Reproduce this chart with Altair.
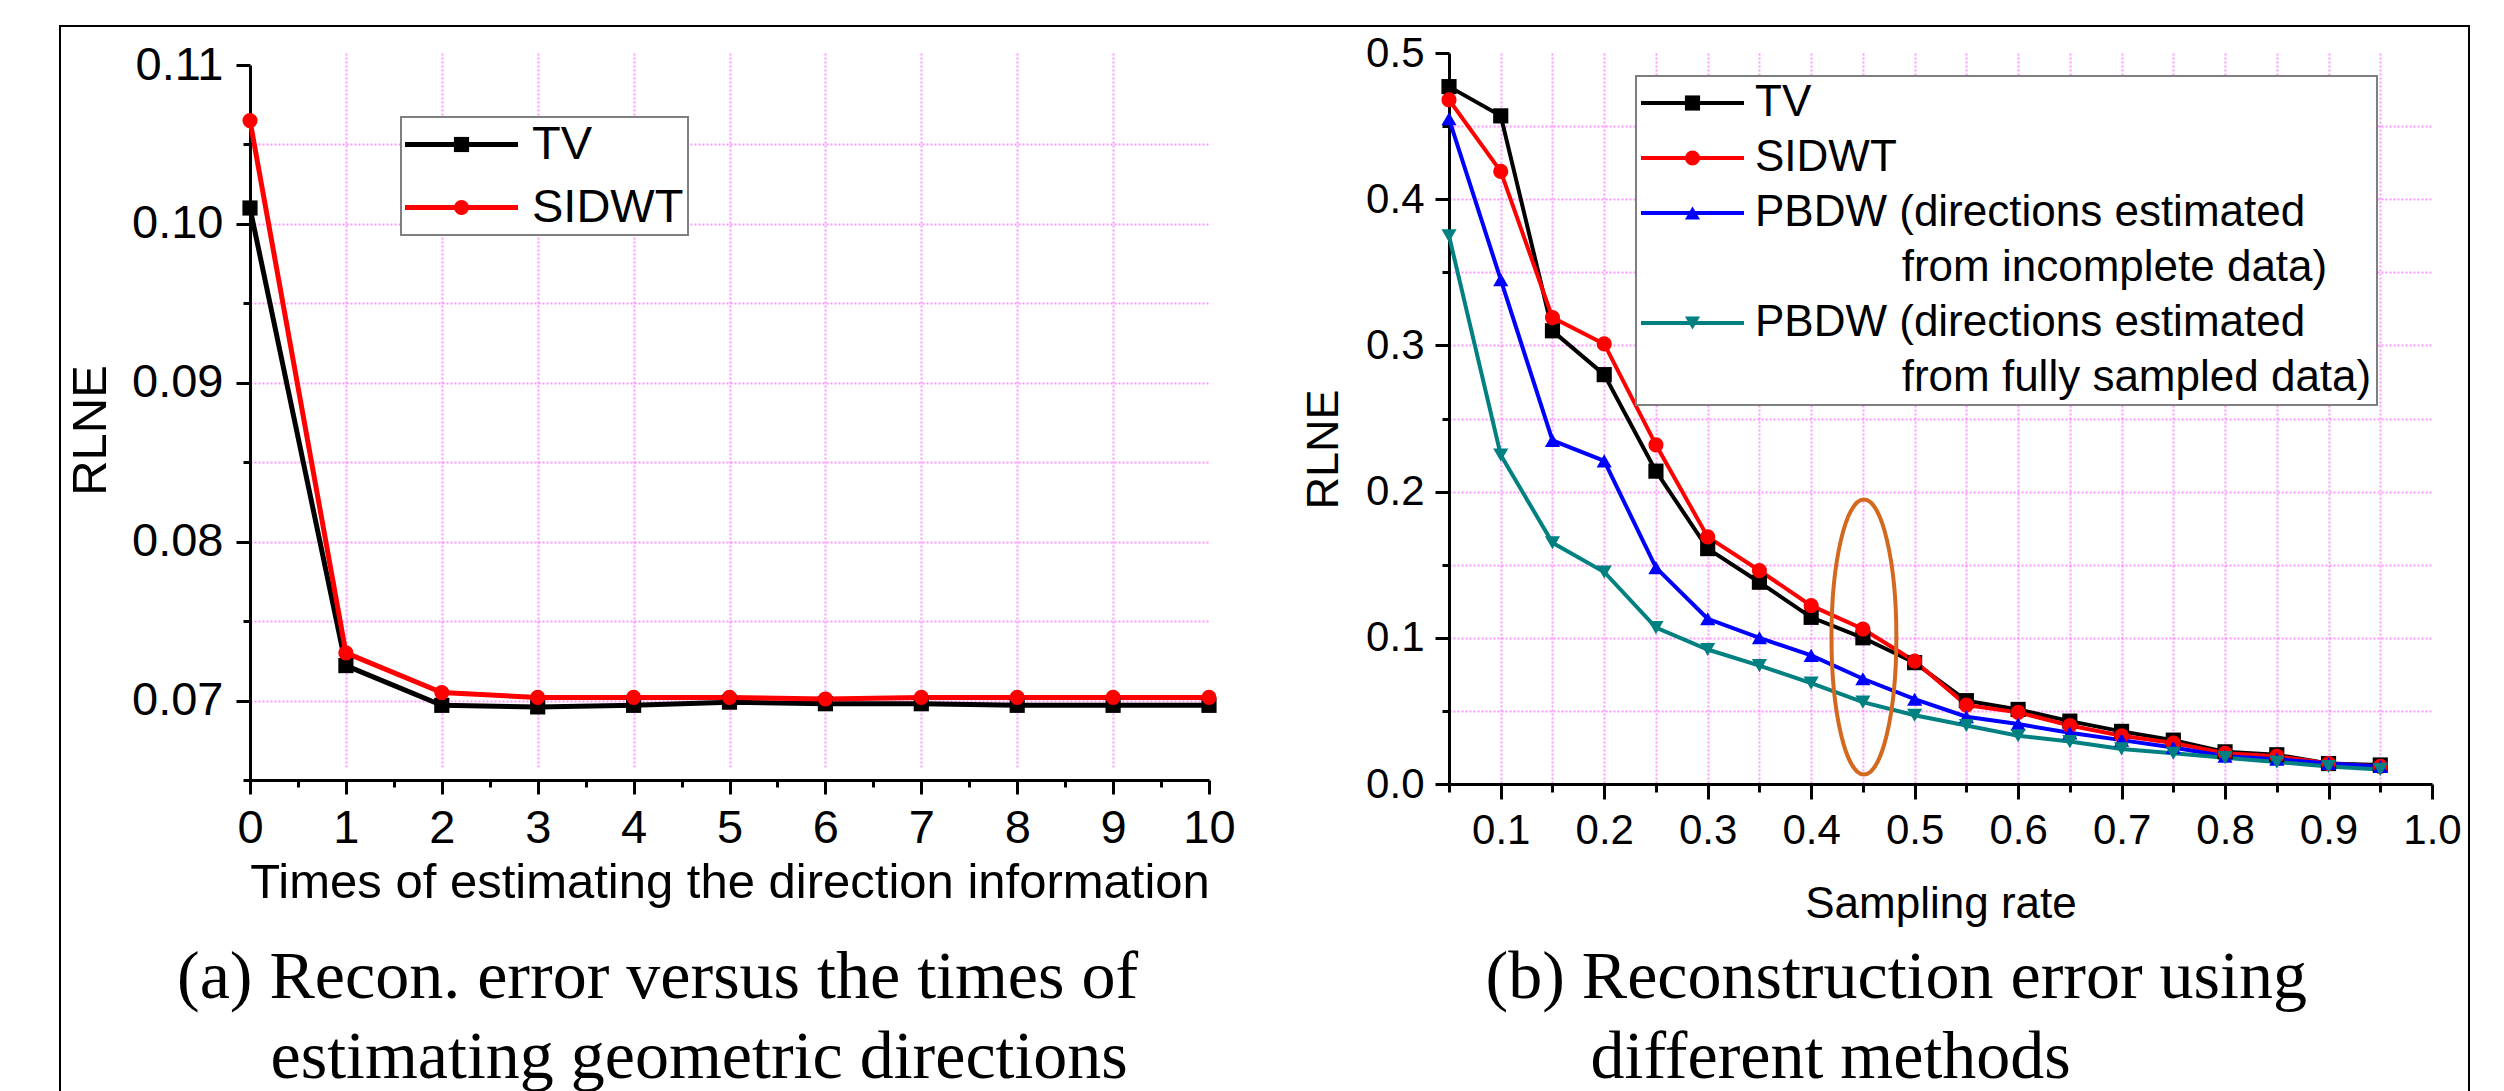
import altair as alt
import pandas as pd

# ---------------- panel (a) data ----------------
times = [0, 1, 2, 3, 4, 5, 6, 7, 8, 9, 10]
tv_a = [0.1010, 0.0722, 0.0697, 0.0696, 0.0697, 0.0699, 0.0698, 0.0698, 0.0697, 0.0697, 0.0697]
sidwt_a = [0.1065, 0.0730, 0.0705, 0.0702, 0.0702, 0.0702, 0.0701, 0.0702, 0.0702, 0.0702, 0.0702]
series_a = ["TV", "SIDWT"]
colors_a = ["#000000", "#FF0000"]
shapes_a = ["square", "circle"]

# ---------------- panel (b) data ----------------
rates = [0.05, 0.10, 0.15, 0.20, 0.25, 0.30, 0.35, 0.40, 0.45, 0.50,
         0.55, 0.60, 0.65, 0.70, 0.75, 0.80, 0.85, 0.90, 0.95]
tv_b = [0.477, 0.457, 0.310, 0.280, 0.214, 0.161, 0.138, 0.114, 0.100, 0.083,
        0.057, 0.051, 0.043, 0.036, 0.030, 0.022, 0.020, 0.014, 0.013]
sidwt_b = [0.468, 0.419, 0.319, 0.301, 0.232, 0.169, 0.146, 0.122, 0.106, 0.084,
           0.054, 0.049, 0.040, 0.033, 0.028, 0.021, 0.019, 0.014, 0.012]
pbdw_inc_b = [0.455, 0.345, 0.235, 0.221, 0.148, 0.113, 0.100, 0.088, 0.072, 0.058,
              0.046, 0.041, 0.035, 0.030, 0.025, 0.019, 0.017, 0.014, 0.012]
pbdw_full_b = [0.375, 0.225, 0.165, 0.145, 0.107, 0.092, 0.081, 0.069, 0.056, 0.047,
               0.040, 0.033, 0.029, 0.024, 0.021, 0.018, 0.015, 0.012, 0.010]
series_b = ["TV", "SIDWT", "PBDW_inc", "inc_line2", "PBDW_full", "full_line2"]
INDENT = "\u200b" + "\u00a0" * 12
legend_text_b = {
    "TV": "TV",
    "SIDWT": "SIDWT",
    "PBDW_inc": "PBDW (directions estimated",
    "inc_line2": INDENT + "from incomplete data)",
    "PBDW_full": "PBDW (directions estimated",
    "full_line2": INDENT + "from fully sampled data)",
}
colors_b = ["#000000", "#FF0000", "#0000FF", "transparent", "#008080", "transparent"]
shapes_b = ["square", "circle", "triangle-up", "circle", "triangle-down", "circle"]

# highlighted region (ellipse annotation)
ellipse_rate = [0.451]
ellipse_rlne = [0.1005]

# tick / grid positions
a_x_major = times
a_x_minor = [0.5, 1.5, 2.5, 3.5, 4.5, 5.5, 6.5, 7.5, 8.5, 9.5]
a_x_grid = [1, 2, 3, 4, 5, 6, 7, 8, 9]
a_y_major = [0.07, 0.08, 0.09, 0.10, 0.11]
a_y_minor = [0.065, 0.075, 0.085, 0.095, 0.105]
a_y_grid = [0.07, 0.075, 0.08, 0.085, 0.09, 0.095, 0.10, 0.105]
b_x_major = [0.1, 0.2, 0.3, 0.4, 0.5, 0.6, 0.7, 0.8, 0.9, 1.0]
b_x_minor = [0.05, 0.15, 0.25, 0.35, 0.45, 0.55, 0.65, 0.75, 0.85, 0.95]
b_x_grid = [0.1, 0.15, 0.2, 0.25, 0.3, 0.35, 0.4, 0.45, 0.5, 0.55, 0.6, 0.65,
            0.7, 0.75, 0.8, 0.85, 0.9, 0.95]
b_y_major = [0.0, 0.1, 0.2, 0.3, 0.4, 0.5]
b_y_minor = [0.05, 0.15, 0.25, 0.35, 0.45]
b_y_grid = [0.05, 0.1, 0.15, 0.2, 0.25, 0.3, 0.35, 0.4, 0.45]

caption_a = ["(a) Recon. error versus the times of", "estimating geometric directions"]
caption_b = ["(b) Reconstruction error using", "different methods"]

SANS = "Liberation Sans"
SERIF = "Liberation Serif"
GRID = dict(gridColor="#FF55FF", gridDash=[2, 2], gridWidth=2, gridOpacity=0.6)

# legend line-segment symbols (start at the entry's left edge, extend right)
LINE_A = "M -1.119 0 L 4.262 0"   # scaled by 21 px -> 113 px long
LINE_B = "M -1.1 0 L 4.05 0"      # scaled by 20 px -> 103 px long
BLANK_LABEL = "'\u200b'"          # marker legend carries no visible text

df_a = pd.DataFrame({
    "times": times * 2,
    "rlne": tv_a + sidwt_a,
    "series": ["TV"] * len(times) + ["SIDWT"] * len(times),
})
df_b = pd.DataFrame({
    "rate": rates * 4,
    "rlne": tv_b + sidwt_b + pbdw_inc_b + pbdw_full_b,
    "series": (["TV"] * len(rates) + ["SIDWT"] * len(rates)
               + ["PBDW_inc"] * len(rates) + ["PBDW_full"] * len(rates)),
})
one_row = pd.DataFrame({"k": [1]})


def mk(names):
    # marker-legend keys (distinct domain so the marker legend stays separate)
    return ["m_" + n for n in names]


def major_axis(orient, values, fmt, lsize, lpad, tick, title, tsize, **kw):
    return alt.Axis(orient=orient, values=values, format=fmt, labelFontSize=lsize,
                    labelPadding=lpad, tickSize=tick, tickWidth=3, domainWidth=3,
                    grid=False, title=title, titleFontSize=tsize, labelFlush=False,
                    labelOverlap=False, **kw)


def minor_axis(orient, values, tick):
    return alt.Axis(orient=orient, values=values, labels=False, domain=False,
                    grid=False, tickSize=tick, tickWidth=3, title=None)


def grid_axis(orient, values):
    return alt.Axis(orient=orient, values=values, labels=False, domain=False,
                    ticks=False, grid=True, title=None, **GRID)


def label_expr(mapping):
    expr = "datum.label"
    for k, v in reversed(list(mapping.items())):
        expr = f"datum.label === '{k}' ? '{v}' : ({expr})"
    return expr


def caption(text, x, y):
    return alt.Chart(one_row).mark_text(
        text=text, font=SERIF, fontSize=68, align="left", baseline="alphabetic",
        color="black").encode(x=alt.value(x), y=alt.value(y))


# ================= panel (a) =================
xa = alt.Scale(domain=[0, 10], nice=False, zero=False)
ya = alt.Scale(domain=[0.065, 0.11], range=[727, 12], nice=False, zero=False)
base_a = alt.Chart(df_a)

grid_a = base_a.mark_point(opacity=0, size=1).encode(
    x=alt.X("times:Q", scale=xa, axis=grid_axis("bottom", a_x_grid)),
    y=alt.Y("rlne:Q", scale=ya, axis=grid_axis("left", a_y_grid)),
)
minor_a = base_a.mark_point(opacity=0, size=1).encode(
    x=alt.X("times:Q", scale=xa, axis=minor_axis("bottom", a_x_minor, 7)),
    y=alt.Y("rlne:Q", scale=ya, axis=minor_axis("left", a_y_minor, 7)),
)
lines_a = base_a.mark_line(strokeWidth=5).encode(
    x=alt.X("times:Q", scale=xa,
            axis=major_axis("bottom", a_x_major, "d", 47, 11, 14,
                            "Times of estimating the direction information", 49,
                            titleY=117, titleBaseline="alphabetic")),
    y=alt.Y("rlne:Q", scale=ya,
            axis=major_axis("left", a_y_major, ".2f", 47, 13, 14, "RLNE", 49,
                            titleX=-145, titleY=377, titleBaseline="alphabetic",
                            titleAngle=270)),
    color=alt.Color("series:N", scale=alt.Scale(domain=series_a, range=colors_a),
                    legend=alt.Legend(orient="none", legendX=151, legendY=64, title=None,
                                      symbolType=LINE_A, symbolSize=1764,
                                      symbolStrokeWidth=5, labelFontSize=47,
                                      labelOffset=80, rowPadding=15, padding=4,
                                      labelLimit=1000, fillColor="white",
                                      strokeColor="#7f7f7f", zindex=1)),
)
shape_legend_a = alt.Legend(orient="none", legendX=184, legendY=64, title=None,
                            symbolSize=230, symbolStrokeWidth=0, labelFontSize=47,
                            labelOffset=11, rowPadding=15, padding=4, labelLimit=1000,
                            labelExpr=BLANK_LABEL, strokeColor="transparent", zindex=2)
points_a = base_a.transform_calculate(key="'m_' + datum.series").mark_point(
    filled=True, size=230, opacity=1).encode(
    x=alt.X("times:Q", scale=xa, axis=None),
    y=alt.Y("rlne:Q", scale=ya, axis=None),
    fill=alt.Fill("key:N", scale=alt.Scale(domain=mk(series_a), range=colors_a),
                  legend=shape_legend_a),
    shape=alt.Shape("key:N", scale=alt.Scale(domain=mk(series_a), range=shapes_a),
                    legend=shape_legend_a),
)
frame = alt.Chart(one_row).mark_rect(fill="transparent", stroke="black",
                                     strokeWidth=2).encode(
    x=alt.value(-190), x2=alt.value(2219), y=alt.value(-27), y2=alt.value(1100))

left = alt.layer(
    frame, grid_a, minor_a, lines_a, points_a,
    caption(caption_a[0], -73, 945), caption(caption_a[1], 20.5, 1025),
).resolve_axis(x="independent", y="independent").properties(width=959, height=727)

# ================= panel (b) =================
xb = alt.Scale(domain=[0.05, 1.0], nice=False, zero=False)
yb = alt.Scale(domain=[0.0, 0.5], nice=False, zero=False)
base_b = alt.Chart(df_b)

grid_b = base_b.mark_point(opacity=0, size=1).encode(
    x=alt.X("rate:Q", scale=xb, axis=grid_axis("bottom", b_x_grid)),
    y=alt.Y("rlne:Q", scale=yb, axis=grid_axis("left", b_y_grid)),
)
minor_b = base_b.mark_point(opacity=0, size=1).encode(
    x=alt.X("rate:Q", scale=xb, axis=minor_axis("bottom", b_x_minor, 8)),
    y=alt.Y("rlne:Q", scale=yb, axis=minor_axis("left", b_y_minor, 7)),
)
lines_b = base_b.mark_line(strokeWidth=4).encode(
    x=alt.X("rate:Q", scale=xb,
            axis=major_axis("bottom", b_x_major, ".1f", 42, 11, 15, "Sampling rate", 44,
                            titleY=133, titleBaseline="alphabetic")),
    y=alt.Y("rlne:Q", scale=yb,
            axis=major_axis("left", b_y_major, ".1f", 42, 11, 14, "RLNE", 45,
                            titleX=-112, titleY=396, titleBaseline="alphabetic",
                            titleAngle=270)),
    color=alt.Color("series:N", scale=alt.Scale(domain=series_b, range=colors_b),
                    legend=alt.Legend(orient="none", legendX=187, legendY=23, title=None,
                                      symbolType=LINE_B, symbolSize=1600,
                                      symbolStrokeWidth=4, labelFontSize=44,
                                      labelOffset=70, rowPadding=11, padding=5,
                                      labelLimit=2000, fillColor="white",
                                      strokeColor="#7f7f7f", zindex=1,
                                      labelExpr=label_expr(legend_text_b))),
)
shape_legend_b = alt.Legend(orient="none", legendX=216.5, legendY=23, title=None,
                            symbolSize=230, symbolStrokeWidth=0, labelFontSize=44,
                            labelOffset=9, rowPadding=11, padding=5, labelLimit=2000,
                            labelExpr=BLANK_LABEL, strokeColor="transparent", zindex=2)
points_b = base_b.transform_calculate(key="'m_' + datum.series").mark_point(
    filled=True, size=230, opacity=1).encode(
    x=alt.X("rate:Q", scale=xb, axis=None),
    y=alt.Y("rlne:Q", scale=yb, axis=None),
    fill=alt.Fill("key:N", scale=alt.Scale(domain=mk(series_b), range=colors_b),
                  legend=shape_legend_b),
    shape=alt.Shape("key:N", scale=alt.Scale(domain=mk(series_b), range=shapes_b),
                    legend=shape_legend_b),
)
ELLIPSE = ("M 0 -1 C 0.1305 -1 0.236 -0.5523 0.236 0 C 0.236 0.5523 0.1305 1 0 1 "
           "C -0.1305 1 -0.236 0.5523 -0.236 0 C -0.236 -0.5523 -0.1305 -1 0 -1 Z")
ellipse = alt.Chart(pd.DataFrame({"rate": ellipse_rate, "rlne": ellipse_rlne})).mark_point(
    shape=ELLIPSE, size=75625, filled=False, color="#D2691E", strokeWidth=4,
    opacity=1).encode(
    x=alt.X("rate:Q", scale=xb, axis=None),
    y=alt.Y("rlne:Q", scale=yb, axis=None),
)

right = alt.layer(
    grid_b, minor_b, lines_b, points_b, ellipse,
    caption(caption_b[0], 36.5, 945), caption(caption_b[1], 141.5, 1025),
).resolve_axis(x="independent", y="independent").properties(width=983, height=731)

chart = alt.hconcat(left, right, spacing=240, bounds="flush").resolve_scale(
    color="independent", fill="independent", shape="independent",
).resolve_legend(
    color="independent", fill="independent", shape="independent",
).properties(
    padding={"left": 51, "top": 17, "right": 5, "bottom": 5}
).configure_view(strokeWidth=0).configure_axis(
    labelFont=SANS, titleFont=SANS, titleFontWeight="normal", labelColor="black",
    titleColor="black", domainColor="black", tickColor="black",
).configure_legend(labelFont=SANS, labelColor="black", strokeWidth=2)

chart.save("out.html", embed_options={"renderer": "svg", "actions": False})
